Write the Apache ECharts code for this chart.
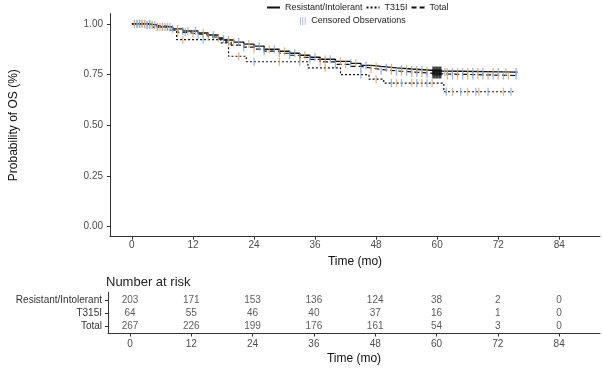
<!DOCTYPE html>
<html><head><meta charset="utf-8">
<script src="https://cdn.jsdelivr.net/npm/echarts@6/dist/echarts.min.js"></script>
<style>html,body{margin:0;padding:0;background:#fff}#c{width:602px;height:369px}</style>
</head><body><div id="c"></div>
<script>
// ---------- data ----------
const monthTicks = [0, 12, 24, 36, 48, 60, 72, 84];
const probTicks = [0, 0.25, 0.5, 0.75, 1];
const groupNames = ['Resistant/Intolerant', 'T315I', 'Total'];

// Kaplan-Meier steps (time in months, survival probability)
const riTime = [0, 3, 5, 8, 10, 13, 15, 17, 18, 20, 22, 24, 26, 29, 31, 33, 35, 37, 40, 43, 45, 47, 49, 52, 55, 58, 61, 75.8];
const riSurv = [1.0, 0.995, 0.985, 0.975, 0.965, 0.955, 0.945, 0.93, 0.92, 0.91, 0.90, 0.89, 0.875, 0.865, 0.855, 0.845, 0.835, 0.825, 0.815, 0.805, 0.795, 0.79, 0.783, 0.777, 0.772, 0.767, 0.762, 0.762];

const tTime = [0, 4, 7, 8.8, 17.5, 19, 22.5, 34.6, 41, 46.6, 49.5, 61.3, 75];
const tSurv = [1.0, 0.984, 0.969, 0.922, 0.906, 0.84, 0.813, 0.783, 0.749, 0.727, 0.708, 0.665, 0.665];

const totTime = [0, 3, 5, 8, 9, 11, 13, 15, 17, 18.5, 19.5, 22, 24, 26, 29, 31, 33, 35, 37, 40, 43, 45, 47, 49, 52, 55, 58, 61, 75.8];
const totSurv = [1.0, 0.993, 0.985, 0.97, 0.958, 0.95, 0.945, 0.935, 0.925, 0.91, 0.895, 0.885, 0.875, 0.865, 0.855, 0.845, 0.835, 0.825, 0.812, 0.80, 0.79, 0.782, 0.775, 0.768, 0.763, 0.758, 0.753, 0.745, 0.745];

// censoring times
const riCensor = [0.5, 1, 1.5, 2, 2.5, 3, 3.5, 4, 5, 5.5, 6.5, 7, 8, 9, 10, 11, 12.5, 14, 16, 17, 19, 20, 21, 23, 25, 27, 28, 30, 32, 34, 36, 38, 39, 41, 43, 44, 46, 48, 50, 51, 53, 54, 55, 56, 57, 58, 61.5, 62, 63, 64, 65, 66, 67, 68, 69, 71, 72, 73.5, 75.5];
const tCensor = [0.5, 1.5, 2.5, 3.5, 5, 6, 10, 14, 21, 24, 29, 33, 38, 45, 48, 51, 52, 53, 55, 56, 57, 58, 59, 61.8, 63, 64.6, 66, 67.6, 68.2, 70, 73, 74.5];
const totCensor = [1, 2, 3, 4, 4.5, 6, 7.5, 9, 10.5, 12, 13, 15, 18, 19, 22, 24, 26, 29, 31, 33, 35, 37, 40, 42, 45, 47, 49, 51, 52, 53, 54, 55, 56, 57, 58, 62, 63, 64, 65, 66, 67, 68, 69, 70, 71, 72, 73, 74, 75.5];
const clusterCensor = [59.2, 59.5, 59.8, 60.1, 60.4, 60.7];

// number at risk
const riskResistant = [203, 171, 153, 136, 124, 38, 2, 0];
const riskT315I = [64, 55, 46, 40, 37, 16, 1, 0];
const riskTotal = [267, 226, 199, 176, 161, 54, 3, 0];

// ---------- helpers ----------
const FONT = '"Liberation Sans", Arial, sans-serif';
function zip(a, b) { return a.map((v, i) => [v, b[i]]); }
function stepAt(times, surv, t) {
  let v = surv[0];
  for (let i = 0; i < times.length; i++) if (times[i] <= t) v = surv[i];
  return v;
}
function censorPts(cens, times, surv) { return cens.map(t => [t, stepAt(times, surv, t)]); }
const BLUE = '#7fa7d9', ORANGE = '#d9a46c';
const altColor = p => (p.dataIndex % 2 ? ORANGE : BLUE);

const rowPos = { 'Resistant/Intolerant': 3, 'T315I': 2, 'Total': 1 };
const riskRows = [riskResistant, riskT315I, riskTotal];
const riskData = [];
groupNames.forEach((g, gi) => monthTicks.forEach((m, mi) => riskData.push([m, rowPos[g], riskRows[gi][mi]])));

const censorBase = { type: 'scatter', name: 'Censored Observations', symbol: 'rect', symbolSize: [1.3, 8], z: 3 };

const xMin = -4.3, xMax = 92;
const axisCol = '#333';
const labelCol = '#4d4d4d';

const chart = echarts.init(document.getElementById('c'), null, { renderer: 'canvas' });
chart.setOption({
  animation: false,
  backgroundColor: '#fff',
  textStyle: { fontFamily: FONT },
  title: {
    text: 'Number at risk', left: 106, top: 276, padding: 0,
    textStyle: { fontSize: 13, fontWeight: 'normal', color: '#222', fontFamily: FONT }
  },
  legend: [
    {
      data: groupNames, left: 266, top: 3, padding: 0, itemWidth: 13, itemHeight: 8, itemGap: 3,
      itemStyle: { opacity: 0 },
      textStyle: { fontSize: 9, color: '#222', fontFamily: FONT }
    },
    {
      data: [{ name: 'Censored Observations', icon: 'path://M0,0H1V10H0Z M3,0H4V10H3Z M6,0H7V10H6Z', itemStyle: { color: '#8b9ec0' } }],
      left: 300, top: 16.5, padding: 0, itemWidth: 7, itemHeight: 8,
      textStyle: { fontSize: 9, color: '#222', fontFamily: FONT }
    }
  ],
  grid: [
    { left: 108, right: 2, top: 13.7, height: 223 },
    { left: 108, right: 2, top: 292.2, height: 41.3 }
  ],
  xAxis: [
    {
      gridIndex: 0, type: 'value', min: xMin, max: xMax,
      name: 'Time (mo)', nameLocation: 'middle', nameGap: 12,
      nameTextStyle: { fontSize: 12, color: '#111', fontFamily: FONT },
      axisLine: { onZero: false, lineStyle: { color: axisCol, width: 1 } },
      axisTick: { customValues: monthTicks, length: 3, lineStyle: { color: axisCol } },
      axisLabel: { customValues: monthTicks, fontSize: 10, color: labelCol, margin: 4, fontFamily: FONT },
      splitLine: { show: false }
    },
    {
      gridIndex: 1, type: 'value', min: xMin, max: xMax,
      name: 'Time (mo)', nameLocation: 'middle', nameGap: 19,
      nameTextStyle: { fontSize: 12, color: '#111', fontFamily: FONT },
      axisLine: { onZero: false, lineStyle: { color: axisCol, width: 1 } },
      axisTick: { customValues: monthTicks, length: 3, lineStyle: { color: axisCol } },
      axisLabel: { customValues: monthTicks, fontSize: 10, color: labelCol, margin: 6, fontFamily: FONT },
      splitLine: { show: false }
    }
  ],
  yAxis: [
    {
      gridIndex: 0, type: 'value', min: -0.05, max: 1.05,
      name: 'Probability of OS (%)', nameLocation: 'middle', nameGap: 90, nameRotate: 90,
      nameTextStyle: { fontSize: 12, color: '#111', fontFamily: FONT },
      axisLine: { show: true, onZero: false, lineStyle: { color: axisCol, width: 1 } },
      axisTick: { show: true, customValues: probTicks, length: 3, lineStyle: { color: axisCol } },
      axisLabel: { customValues: probTicks, fontSize: 10, color: labelCol, margin: 7, fontFamily: FONT, formatter: v => v.toFixed(2) },
      splitLine: { show: false }
    },
    {
      gridIndex: 1, type: 'value', min: 0.4, max: 3.6,
      axisLine: { show: true, onZero: false, lineStyle: { color: axisCol, width: 1 } },
      axisTick: { show: true, customValues: [1, 2, 3], length: 3, lineStyle: { color: axisCol } },
      axisLabel: {
        customValues: [1, 2, 3], fontSize: 10, color: '#333', margin: 6, fontFamily: FONT,
        formatter: v => groupNames.find(g => rowPos[g] === Math.round(v)) || ''
      },
      splitLine: { show: false }
    }
  ],
  series: [
    {
      type: 'line', name: 'Resistant/Intolerant', step: 'end', symbol: 'none', data: zip(riTime, riSurv),
      lineStyle: { color: '#111', width: 1.4, type: 'solid' }, itemStyle: { color: '#111' }, z: 2
    },
    {
      type: 'line', name: 'T315I', step: 'end', symbol: 'none', data: zip(tTime, tSurv),
      lineStyle: { color: '#111', width: 1.2, type: [2, 2] }, itemStyle: { color: '#111' }, z: 2
    },
    {
      type: 'line', name: 'Total', step: 'end', symbol: 'none', data: zip(totTime, totSurv),
      lineStyle: { color: '#111', width: 1.2, type: [5, 3] }, itemStyle: { color: '#111' }, z: 2
    },
    Object.assign({}, censorBase, { data: censorPts(riCensor, riTime, riSurv), itemStyle: { color: altColor } }),
    Object.assign({}, censorBase, { data: censorPts(tCensor, tTime, tSurv), itemStyle: { color: p => (p.dataIndex % 2 ? BLUE : ORANGE) } }),
    Object.assign({}, censorBase, { data: censorPts(totCensor, totTime, totSurv), itemStyle: { color: altColor } }),
    Object.assign({}, censorBase, { data: censorPts(clusterCensor, riTime, riSurv), symbolSize: [1.6, 9], itemStyle: { color: '#111' } }),
    Object.assign({}, censorBase, { data: censorPts(clusterCensor, totTime, totSurv), symbolSize: [1.6, 9], itemStyle: { color: '#111' } }),
    {
      type: 'scatter', name: 'risk', xAxisIndex: 1, yAxisIndex: 1, data: riskData,
      symbolSize: 0, itemStyle: { color: 'transparent' },
      label: { show: true, position: 'inside', formatter: p => String(p.value[2]), fontSize: 10, color: '#333', fontFamily: FONT }
    }
  ]
});
</script>
</body></html>
